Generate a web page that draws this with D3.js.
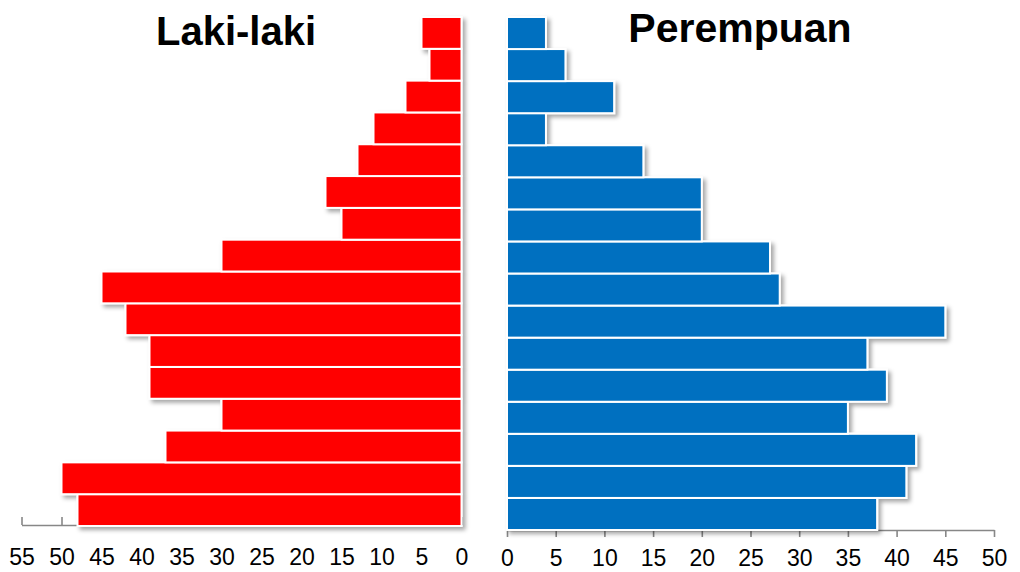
<!DOCTYPE html>
<html>
<head>
<meta charset="utf-8">
<script src="https://cdn.jsdelivr.net/npm/d3@7"></script>
<style>
  html, body { margin: 0; padding: 0; background: #fff; }
  svg { display: block; }
</style>
</head>
<body>
<svg id="chart" width="1020" height="572"></svg>
<script>
// Age groups, youngest first (bottom of the pyramid)
const ageGroups = ["0-4","5-9","10-14","15-19","20-24","25-29","30-34","35-39",
                   "40-44","45-49","50-54","55-59","60-64","65-69","70-74","75+"];
const maleValues   = [48, 50, 37, 30, 39, 39, 42, 45, 30, 15, 17, 13, 11, 7, 4, 5];
const femaleValues = [38, 41, 42, 35, 39, 37, 45, 28, 27, 20, 20, 14, 4, 11, 6, 4];
const maleTicks   = [0, 5, 10, 15, 20, 25, 30, 35, 40, 45, 50, 55];
const femaleTicks = [0, 5, 10, 15, 20, 25, 30, 35, 40, 45, 50];
const titles = ["Laki-laki", "Perempuan"];

const svg = d3.select("#chart");
const font = "'Liberation Sans', Arial, sans-serif";

const defs = svg.append("defs");
const f = defs.append("filter").attr("id", "shadow")
  .attr("x", "-5%").attr("y", "-5%").attr("width", "115%").attr("height", "115%");
f.append("feDropShadow").attr("dx", 3).attr("dy", 3).attr("stdDeviation", 2)
  .attr("flood-color", "#000").attr("flood-opacity", 0.35);

const order = ageGroups.slice().reverse(); // oldest at top

// Left (male)
const xL = d3.scaleLinear().domain([55, 0]).range([21.5, 461.5]);
const yL = d3.scaleBand().domain(order).range([17, 526]).padding(0);
// Right (female)
const xR = d3.scaleLinear().domain([0, 50]).range([507, 994]);
const yR = d3.scaleBand().domain(order).range([17, 530]).padding(0);

const male = ageGroups.map((g, i) => ({ g, v: maleValues[i] }));
const female = ageGroups.map((g, i) => ({ g, v: femaleValues[i] }));

// Axes first (behind bars)
const axL = svg.append("g").attr("transform", "translate(0,525)")
  .call(d3.axisBottom(xL).tickValues(maleTicks).tickSizeInner(-8).tickSizeOuter(0).tickPadding(24));
const axR = svg.append("g").attr("transform", "translate(0,530)")
  .call(d3.axisBottom(xR).tickValues(femaleTicks).tickSizeInner(7).tickSizeOuter(0).tickPadding(13));
[axL, axR].forEach(ax => {
  ax.select(".domain").attr("stroke", "#878787").attr("stroke-width", 1.6);
  ax.selectAll(".tick line").attr("stroke", "#878787").attr("stroke-width", 1.6);
  ax.selectAll(".tick text").attr("fill", "#000").style("font-family", font).style("font-size", "23px");
});

// Bars
svg.append("g").attr("filter", "url(#shadow)")
  .selectAll("rect").data(male).join("rect")
  .attr("x", d => xL(d.v))
  .attr("width", d => xL(0) - xL(d.v))
  .attr("y", d => yL(d.g))
  .attr("height", yL.bandwidth())
  .attr("fill", "#FF0000")
  .attr("stroke", "#fff").attr("stroke-width", 2);

svg.append("g").attr("filter", "url(#shadow)")
  .selectAll("rect").data(female).join("rect")
  .attr("x", xR(0))
  .attr("width", d => xR(d.v) - xR(0))
  .attr("y", d => yR(d.g))
  .attr("height", yR.bandwidth())
  .attr("fill", "#0070C0")
  .attr("stroke", "#fff").attr("stroke-width", 2);

// Titles
svg.append("text").attr("x", 236).attr("y", 45).attr("text-anchor", "middle")
  .style("font-family", font).style("font-weight", "bold").style("font-size", "40px")
  .attr("fill", "#000").text(titles[0]);
svg.append("text").attr("x", 740).attr("y", 42).attr("text-anchor", "middle")
  .style("font-family", font).style("font-weight", "bold").style("font-size", "41px")
  .attr("fill", "#000").text(titles[1]);
</script>
</body>
</html>
